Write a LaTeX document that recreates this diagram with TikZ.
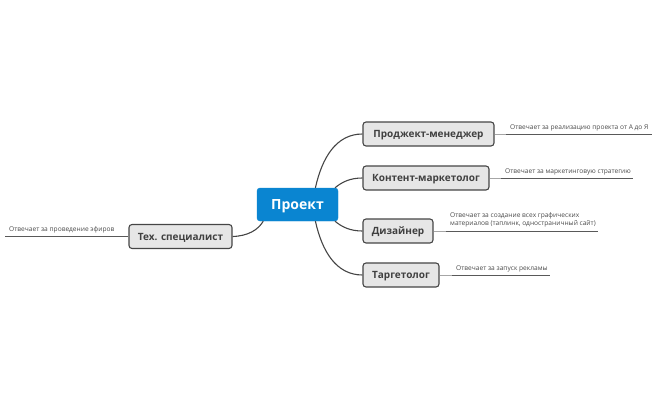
\documentclass[tikz,border=0pt]{standalone}
\usepackage{fontspec}
\setmainfont{Open Sans}
\usepackage{xcolor}
\definecolor{rootblue}{HTML}{0A85D1}
\definecolor{branchgray}{HTML}{E6E6E6}
\definecolor{edgegray}{HTML}{454545}
\definecolor{leafgray}{HTML}{4A4A4A}
\tikzset{
 rootbox/.style = {draw = rootblue, fill = rootblue, rounded corners = 3pt, text = white, inner sep = 0pt, text height = 10pt, text depth = 0pt, minimum height = 33pt, minimum width = 81pt, font = \fontsize{14}{16}\selectfont\bfseries},
 branchbox/.style = {draw = edgegray, fill = branchgray, rounded corners = 3pt, line width = 1.1pt, text = black!75, inner sep = 0pt, text height = 7.5pt, text depth = 0pt, minimum height = 24pt, font = \fontsize{10}{12}\selectfont\bfseries},
 leaftext/.style = {text = leafgray, inner sep = 0pt, anchor = west, align = left, font = \fontsize{6.6}{8.2}\selectfont},
 link/.style = {draw = edgegray, line width = 1.1pt},
 stub/.style = {draw = black!35, line width = 0.9pt},
 rule/.style = {draw = black!65, line width = 0.9pt}
}
\begin{document}
\begin{tikzpicture}[x = 1pt, y = -1pt]
 \useasboundingbox (0, 0) rectangle (657, 407);
 \node [rootbox] (root) at (297.5, 204.5) {Проект};
 \node [branchbox, minimum width = 131pt] (manager) at (428.5, 134) {Проджект-менеджер};
 \node [branchbox, minimum width = 126pt] (marketer) at (426, 178) {Контент-маркетолог};
 \node [branchbox, minimum width = 70pt] (designer) at (398, 231) {Дизайнер};
 \node [branchbox, minimum width = 76pt] (targeter) at (401, 275) {Таргетолог};
 \node [branchbox, minimum width = 103pt] (tech) at (180.5, 236.5) {Тех. специалист};

 % branches
 \draw [link] (root.43) .. controls (322, 158) and (336, 134) .. (manager.west);
 \draw [link] (root.24) .. controls (342, 182) and (350, 178) .. (marketer.west);
 \draw [link] (root.-24) .. controls (342, 227) and (350, 231) .. (designer.west);
 \draw [link] (root.-43) .. controls (322, 251) and (336, 275) .. (targeter.west);
 \draw [link] (root.206) .. controls (258, 230) and (248, 236) .. (tech.east);

 % leaves
 \node [leaftext] (managertext) at (510, 128.3) {Отвечает за реализацию проекта от А до Я};
 \node [leaftext] (marketertext) at (505, 172.3) {Отвечает за маркетинговую стратегию};
 \node [leaftext] (designertext) at (450, 220) {Отвечает за создание всех графических\\материалов (таплинк, одностраничный сайт)};
 \node [leaftext] (targetertext) at (456, 268.8) {Отвечает за запуск рекламы};
 \node [leaftext] (techtext) at (9, 230) {Отвечает за проведение эфиров};

 \coordinate (managerstart) at (506, 134);
 \coordinate (managerend) at (652, 134);
 \coordinate (marketerstart) at (501, 178);
 \coordinate (marketerend) at (633, 178);
 \coordinate (designerstart) at (446, 231);
 \coordinate (designerend) at (598, 231);
 \coordinate (targeterstart) at (452, 275);
 \coordinate (targeterend) at (550, 275);
 \coordinate (techstart) at (5, 236.5);

 \draw [stub] (manager.east) -- (managerstart);
 \draw [rule] (managerstart) -- (managerend);
 \draw [stub] (marketer.east) -- (marketerstart);
 \draw [rule] (marketerstart) -- (marketerend);
 \draw [stub] (designer.east) -- (designerstart);
 \draw [rule] (designerstart) -- (designerend);
 \draw [stub] (targeter.east) -- (targeterstart);
 \draw [rule] (targeterstart) -- (targeterend);
 \draw [rule] (techstart) -- (tech.west);
\end{tikzpicture}
\end{document}
